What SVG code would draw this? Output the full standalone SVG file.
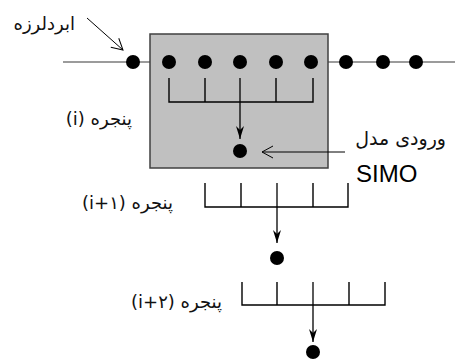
<svg xmlns="http://www.w3.org/2000/svg" width="455" height="360" viewBox="0 0 455 360">
<style>
.comb{fill:none;stroke:#000;stroke-width:1.4}
.dot{fill:#000}
.lbl{font-family:"DejaVu Sans","Noto Sans",sans-serif;font-size:18px;fill:#111}
.fa{fill:none;stroke:#000;stroke-width:1.3;marker-end:url(#ah)}
.thin{fill:none;stroke:#000;stroke-width:1;marker-end:url(#oh)}
</style>
<defs>
<marker id="ah" markerUnits="userSpaceOnUse" markerWidth="16" markerHeight="12" viewBox="-14 -6 16 12" refX="0" refY="0" orient="auto">
<path d="M0,0 L-13,-4 L-9,0 L-13,4 Z" fill="#000"/>
</marker>
<marker id="oh" markerUnits="userSpaceOnUse" markerWidth="16" markerHeight="14" viewBox="-14 -7 16 14" refX="0" refY="0" orient="auto">
<path d="M-11,-6 L0,0 L-11,6" fill="none" stroke="#000" stroke-width="1"/>
</marker>
</defs>
<g id="seismic-line">
<line x1="63" y1="62" x2="455" y2="62" stroke="#7a7a7a" stroke-width="1.5"/>
</g>
<g id="window-box">
<rect x="150" y="34" width="178" height="134" fill="#c0c0c0" stroke="#404040" stroke-width="1.5"/>
</g>
<g id="seismic-dots">
<circle class="dot" cx="133" cy="62" r="7"/>
<circle class="dot" cx="169" cy="62" r="7"/>
<circle class="dot" cx="205" cy="62" r="7"/>
<circle class="dot" cx="240" cy="62" r="7"/>
<circle class="dot" cx="276" cy="62" r="7"/>
<circle class="dot" cx="311" cy="62" r="7"/>
<circle class="dot" cx="346" cy="62" r="7"/>
<circle class="dot" cx="383" cy="62" r="7"/>
<circle class="dot" cx="416" cy="62" r="7"/>
</g>
<g id="window-i">
<path class="comb" d="M169,78 V102 H313 V78 M205,78 V102 M276,78 V102"/>
<circle class="dot" cx="240" cy="151" r="7"/>
</g>
<g id="window-i1">
<path class="comb" d="M205,183 V207 H348 V183 M241,183 V207 M313,183 V207"/>
<circle class="dot" cx="277" cy="258" r="7"/>
</g>
<g id="window-i2">
<path class="comb" d="M242,282 V305 H385 V282 M277,282 V305 M349,282 V305"/>
<circle class="dot" cx="313" cy="352" r="7"/>
</g>
<g id="connectors">
<path class="fa" d="M240,78 V139"/>
<path class="fa" d="M277,183 V243"/>
<path class="fa" d="M313,282 V342"/>
<path class="thin" d="M345,152 H262"/>
<path class="thin" d="M87,18 L123,50"/>
</g>
<g id="labels">
<text class="lbl" x="75" y="30" direction="rtl" text-anchor="start">ابردلرزه</text>
<text class="lbl" x="132" y="125" direction="rtl" text-anchor="start">پنجره (i)</text>
<text class="lbl" x="173" y="209" direction="rtl" text-anchor="start">پنجره (i+۱)</text>
<text class="lbl" x="222" y="308" direction="rtl" text-anchor="start">پنجره (i+۲)</text>
<text class="lbl" x="446" y="145" direction="rtl" text-anchor="start" style="font-size:19px">ورودی مدل</text>
<text x="356" y="182" style="font-family:'Liberation Sans',Arial,sans-serif;font-size:24px;fill:#000">SIMO</text>
</g>
</svg>
